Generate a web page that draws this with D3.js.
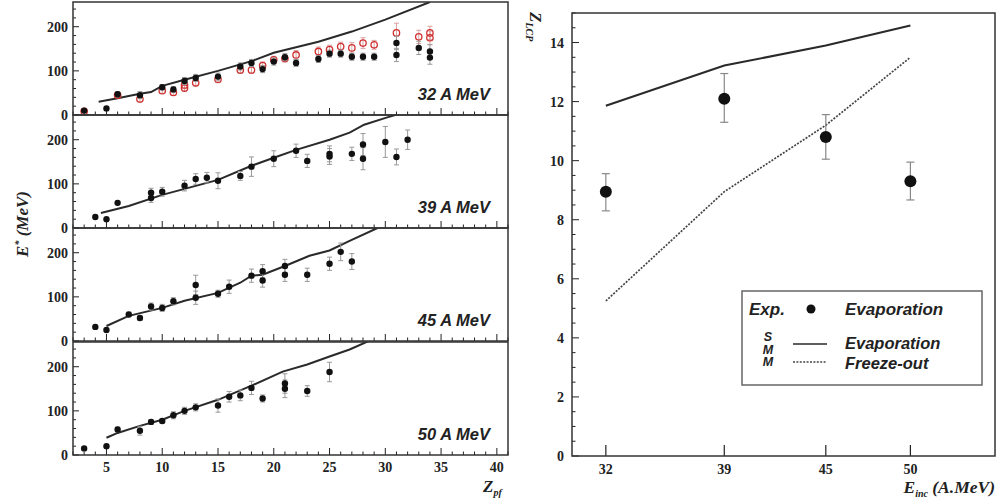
<!DOCTYPE html>
<html><head><meta charset="utf-8">
<script src="https://cdn.jsdelivr.net/npm/d3@7"></script>
<style>body{margin:0;background:#fff}svg{display:block}</style>
</head><body><svg id="c" width="999" height="502"></svg>
<script>
// ---------- data: left panels (E* vs Z_pf) ----------
const panelLabels = ["32 A MeV","39 A MeV","45 A MeV","50 A MeV"];
const xTickLabels = [5,10,15,20,25,30,35,40];
const yTickLabelsLeft = [0,100,200];

// 32 A MeV: black points
const z32 = [3,5,6,8,10,11,12,13,15,17,18,19,20,21,22,24,25,26,27,28,29,31,31,33,34,34];
const e32 = [10,15,47,45,63,58,77,84,87,110,118,104,121,131,118,127,139,139,132,132,132,136,163,152,144,130];
const err32 = [0,0,5,8,6,6,8,8,8,8,8,8,8,8,8,8,8,8,8,8,8,15,15,15,15,15];
// 32 A MeV: red open circles
const zr32 = [3,6,8,10,11,12,12,13,15,17,18,19,20,21,22,24,25,26,27,28,29,31,33,34,34];
const er32 = [8,45,36,55,51,68,61,73,81,102,102,112,125,128,136,144,148,155,152,163,159,186,177,186,175];
const errR32 = [0,4,6,6,6,8,8,8,8,8,8,8,8,8,10,10,10,10,12,12,10,22,15,15,15];
// SMM lines
const lz32 = [4.3,6,8,9,10,12,15,18,20,24,27,30,34];
const le32 = [30,38,48,52,66,80,100,122,141,166,189,216,256];

const z39 = [4,5,6,9,9,10,12,13,14,15,17,18,20,22,23,25,25,27,28,28,30,31,32];
const e39 = [25,20,57,80,68,82,96,111,114,107,118,139,157,175,152,168,162,168,189,157,195,161,200];
const err39 = [0,0,0,10,10,10,12,12,12,18,10,22,18,15,15,18,18,15,25,25,35,18,22];
const lz39 = [4.5,7,10,15,18,20,22,25,26.8,28.1,30.1,31.2];
const le39 = [34,50,75,109,141,159,177,200,216,234,250,258];

const z45 = [4,5,7,8,9,10,11,13,13,15,16,18,19,19,21,21,23,25,26,27];
const e45 = [32,25,60,52,78,75,90,127,98,107,123,148,158,137,170,150,150,175,202,180];
const err45 = [0,0,5,5,8,8,8,22,15,8,15,15,15,15,15,15,15,15,20,18];
const lz45 = [5,7,10,12,15,17,18,19,21,23.2,25,26.8,29.3];
const le45 = [34,57,75,91,109,132,148,150,170,193,205,227,256];

const z50 = [3,5,6,8,9,10,11,12,13,15,16,17,18,19,21,21,23,25];
const e50 = [15,20,58,55,75,77,90,100,108,112,132,135,152,128,162,150,145,188];
const err50 = [0,0,5,10,5,5,8,8,8,15,12,12,15,8,22,20,12,22];
const lz50 = [5,6,8,10,12,15,18,20.8,23,25,26.8,28.5];
const le50 = [39,50,66,80,100,125,157,189,205,223,239,258];

// ---------- data: right panel (Z_LCP vs E_inc) ----------
const einc = [32,39,45,50];
const zlcp = [8.95,12.1,10.8,9.3];
const zlcpLo = [8.3,11.3,10.05,8.67];
const zlcpHi = [9.56,12.95,11.56,9.95];
const smmEvap = [11.86,13.22,13.9,14.58];
const smmFreeze = [5.25,8.95,11.2,13.5];
const yTickLabelsRight = [0,2,4,6,8,10,12,14];

// ---------- drawing ----------
const svg = d3.select("#c");
const serif = "'Liberation Serif','DejaVu Serif',serif";
const sans = "'Liberation Sans',Arial,sans-serif";

const panels = [
  {z:z32,e:e32,err:err32,lz:lz32,le:le32,red:{z:zr32,e:er32,err:errR32}},
  {z:z39,e:e39,err:err39,lz:lz39,le:le39},
  {z:z45,e:e45,err:err45,lz:lz45,le:le45},
  {z:z50,e:e50,err:err50,lz:lz50,le:le50}
];
const bases = [115,228,341,455];
const pH = 113;
const x = d3.scaleLinear().domain([2,41]).range([73,508]);

svg.append("defs").selectAll("clipPath").data(bases).join("clipPath")
  .attr("id",(d,i)=>"clip"+i)
  .append("rect").attr("x",73).attr("y",d=>d-pH).attr("width",435).attr("height",pH);

panels.forEach((p,i)=>{
  const base = bases[i];
  const y = d3.scaleLinear().domain([0,256]).range([base, base-pH]);
  const g = svg.append("g");
  const xt = d3.range(2,42,1);
  g.selectAll(".xt").data(xt).join("line")
    .attr("x1",d=>x(d)).attr("x2",d=>x(d))
    .attr("y1",base).attr("y2",d=>base-(d%5===0?7:3.5))
    .attr("stroke","#222").attr("stroke-width",1);
  const yt = d3.range(0,260,20);
  g.selectAll(".yt").data(yt).join("line")
    .attr("x1",73).attr("x2",d=>73+(d%100===0?6:3))
    .attr("y1",d=>y(d)).attr("y2",d=>y(d))
    .attr("stroke","#222").attr("stroke-width",1);
  g.selectAll(".yl").data(yTickLabelsLeft).join("text")
    .attr("x",68).attr("y",d=>y(d)+5).attr("text-anchor","end")
    .attr("font-family",serif).attr("font-weight","bold").attr("font-size",14)
    .attr("fill","#222").text(d=>d);
  const cg = g.append("g").attr("clip-path",`url(#clip${i})`);
  cg.append("path")
    .datum(p.lz.map((z,k)=>[z,p.le[k]]))
    .attr("d",d3.line().x(d=>x(d[0])).y(d=>y(d[1])))
    .attr("fill","none").attr("stroke","#2a2a2a").attr("stroke-width",2);
  const drawErr = (zs,es,errs,col)=>{
    const data = zs.map((z,k)=>({z,e:es[k],r:errs[k]})).filter(d=>d.r>0);
    cg.selectAll(null).data(data).join("line")
      .attr("x1",d=>x(d.z)).attr("x2",d=>x(d.z))
      .attr("y1",d=>y(d.e-d.r)).attr("y2",d=>y(d.e+d.r))
      .attr("stroke",col).attr("stroke-width",1);
    ["-","+"].forEach(s=>{
      cg.selectAll(null).data(data).join("line")
        .attr("x1",d=>x(d.z)-2.5).attr("x2",d=>x(d.z)+2.5)
        .attr("y1",d=>y(s==="-"?d.e-d.r:d.e+d.r)).attr("y2",d=>y(s==="-"?d.e-d.r:d.e+d.r))
        .attr("stroke",col).attr("stroke-width",1);
    });
  };
  if(p.red){
    drawErr(p.red.z,p.red.e,p.red.err,"#d9a0a0");
    cg.selectAll(null).data(p.red.z.map((z,k)=>({z,e:p.red.e[k]}))).join("circle")
      .attr("cx",d=>x(d.z)).attr("cy",d=>y(d.e)).attr("r",3.2)
      .attr("fill","none").attr("stroke","#d03030").attr("stroke-width",1.3);
  }
  drawErr(p.z,p.e,p.err,"#999");
  cg.selectAll(null).data(p.z.map((z,k)=>({z,e:p.e[k]}))).join("circle")
    .attr("cx",d=>x(d.z)).attr("cy",d=>y(d.e)).attr("r",3.2)
    .attr("fill","#111");
  g.append("rect").attr("x",73).attr("y",base-pH).attr("width",435).attr("height",pH)
    .attr("fill","none").attr("stroke","#333").attr("stroke-width",1.5);
  g.append("text").attr("x",490).attr("y",base-15).attr("text-anchor","end")
    .attr("font-family",sans).attr("font-weight","bold").attr("font-style","italic")
    .attr("font-size",16.5).attr("fill","#222").text(panelLabels[i]);
});
svg.append("g").selectAll("text").data(xTickLabels).join("text")
  .attr("x",d=>x(d)).attr("y",472).attr("text-anchor","middle")
  .attr("font-family",serif).attr("font-weight","bold").attr("font-size",14)
  .attr("fill","#222").text(d=>d);
const zpf = svg.append("text").attr("x",483).attr("y",492)
  .attr("font-family",serif).attr("font-weight","bold").attr("font-style","italic")
  .attr("font-size",17).attr("fill","#222");
zpf.append("tspan").text("Z");
zpf.append("tspan").attr("font-size",10).attr("dy",4).text("pf");
const est = svg.append("text").attr("transform","translate(28,224) rotate(-90)")
  .attr("text-anchor","middle")
  .attr("font-family",serif).attr("font-weight","bold").attr("font-style","italic")
  .attr("font-size",17).attr("fill","#222");
est.append("tspan").text("E");
est.append("tspan").attr("font-size",10).attr("dy",-6).text("*");
est.append("tspan").attr("dy",6).text(" (MeV)");

// ---------- right panel ----------
const rx = d3.scaleLinear().domain([30,55]).range([572,995]);
const ry = d3.scaleLinear().domain([0,15]).range([456,13]);
const rg = svg.append("g");
rg.selectAll(".ryt").data(d3.range(0,15.01,0.5)).join("line")
  .attr("x1",572).attr("x2",d=>572+(d%2===0?7:3.5))
  .attr("y1",d=>ry(d)).attr("y2",d=>ry(d))
  .attr("stroke","#222").attr("stroke-width",1);
rg.selectAll(".ryl").data(yTickLabelsRight).join("text")
  .attr("x",564).attr("y",d=>ry(d)+5).attr("text-anchor","end")
  .attr("font-family",serif).attr("font-weight","bold").attr("font-size",14)
  .attr("fill","#222").text(d=>d);
rg.selectAll(".rxt").data(einc).join("line")
  .attr("x1",d=>rx(d)).attr("x2",d=>rx(d)).attr("y1",456).attr("y2",445)
  .attr("stroke","#222").attr("stroke-width",1.2);
rg.selectAll(".rxl").data(einc).join("text")
  .attr("x",d=>rx(d)).attr("y",474).attr("text-anchor","middle")
  .attr("font-family",serif).attr("font-weight","bold").attr("font-size",14)
  .attr("fill","#222").text(d=>d);
rg.append("path").datum(einc.map((e,k)=>[e,smmEvap[k]]))
  .attr("d",d3.line().x(d=>rx(d[0])).y(d=>ry(d[1])))
  .attr("fill","none").attr("stroke","#2a2a2a").attr("stroke-width",2);
rg.append("path").datum(einc.map((e,k)=>[e,smmFreeze[k]]))
  .attr("d",d3.line().x(d=>rx(d[0])).y(d=>ry(d[1])))
  .attr("fill","none").attr("stroke","#444").attr("stroke-width",1.7)
  .attr("stroke-dasharray","2,1.4");
const pts = einc.map((e,k)=>({e,v:zlcp[k],lo:zlcpLo[k],hi:zlcpHi[k]}));
rg.selectAll(".eb").data(pts).join("line")
  .attr("x1",d=>rx(d.e)).attr("x2",d=>rx(d.e)).attr("y1",d=>ry(d.lo)).attr("y2",d=>ry(d.hi))
  .attr("stroke","#888").attr("stroke-width",1.2);
["lo","hi"].forEach(k=>{
  rg.selectAll(null).data(pts).join("line")
    .attr("x1",d=>rx(d.e)-4).attr("x2",d=>rx(d.e)+4).attr("y1",d=>ry(d[k])).attr("y2",d=>ry(d[k]))
    .attr("stroke","#888").attr("stroke-width",1.2);
});
rg.selectAll(".pt").data(pts).join("circle")
  .attr("cx",d=>rx(d.e)).attr("cy",d=>ry(d.v)).attr("r",6).attr("fill","#111");
rg.append("rect").attr("x",572).attr("y",13).attr("width",423).attr("height",443)
  .attr("fill","none").attr("stroke","#333").attr("stroke-width",1.5);
// legend
const lg = svg.append("g");
lg.append("rect").attr("x",742).attr("y",291).attr("width",240).attr("height",94)
  .attr("fill","#fff").attr("stroke","#666").attr("stroke-width",1.5);
const ltxt = (t,xx,yy,fs)=>lg.append("text").attr("x",xx).attr("y",yy)
  .attr("font-family",sans).attr("font-weight","bold").attr("font-style","italic")
  .attr("font-size",fs||17).attr("fill","#222").text(t);
ltxt("Exp.",749,315);
lg.append("circle").attr("cx",811).attr("cy",309).attr("r",4.5).attr("fill","#111");
ltxt("Evaporation",845,315);
["S","M","M"].forEach((t,k)=>{
  lg.append("text").attr("x",768).attr("y",341+k*12.5).attr("text-anchor","middle")
    .attr("font-family",sans).attr("font-weight","bold").attr("font-style","italic")
    .attr("font-size",12.5).attr("fill","#222").text(t);
});
lg.append("line").attr("x1",793).attr("x2",827).attr("y1",344).attr("y2",344)
  .attr("stroke","#2a2a2a").attr("stroke-width",1.6);
lg.append("line").attr("x1",793).attr("x2",827).attr("y1",362).attr("y2",362)
  .attr("stroke","#444").attr("stroke-width",1.4).attr("stroke-dasharray","2,1.4");
ltxt("Evaporation",845,349,16.5);
ltxt("Freeze-out",845,369,16.5);
// right axis titles
const zl = svg.append("text").attr("transform","translate(530,12) rotate(90)")
  .attr("font-family",serif).attr("font-weight","bold").attr("font-style","italic")
  .attr("font-size",17).attr("fill","#222");
zl.append("tspan").text("Z");
zl.append("tspan").attr("font-size",10).attr("dy",4).text("LCP");
const ei = svg.append("text").attr("x",995).attr("y",493).attr("text-anchor","end")
  .attr("font-family",serif).attr("font-weight","bold").attr("font-style","italic")
  .attr("font-size",17.5).attr("fill","#222");
ei.append("tspan").text("E");
ei.append("tspan").attr("font-size",10).attr("dy",4).text("inc");
ei.append("tspan").attr("dy",-4).text(" (A.MeV)");
</script></body></html>
